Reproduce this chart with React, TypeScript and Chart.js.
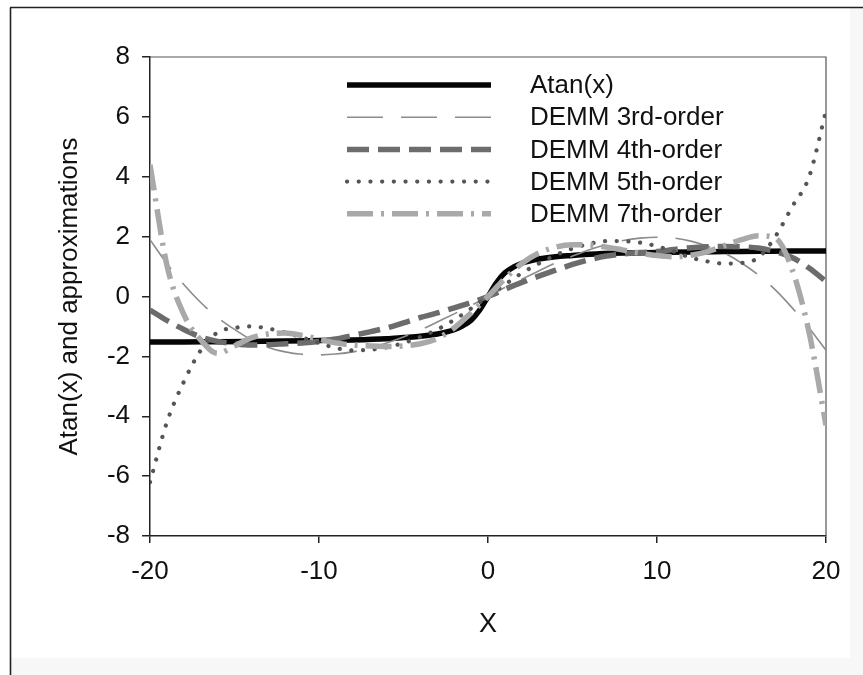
import React, { useEffect, useRef } from 'react';
import { Chart, registerables } from 'chart.js';

Chart.register(...registerables);

// ---------- data ----------
const X_GRID = [-20, -19, -18, -17, -16, -15, -14, -13, -12, -11, -10, -9, -8, -7, -6, -5, -4, -3, -2, -1, 0,
  1, 2, 3, 4, 5, 6, 7, 8, 9, 10, 11, 12, 13, 14, 15, 16, 17, 18, 19, 20];

const ATAN_X = [-20, -18, -16, -14, -12, -10, -8, -6, -5, -4, -3, -2.5, -2, -1.5, -1, -0.5, 0,
  0.5, 1, 1.5, 2, 2.5, 3, 4, 5, 6, 8, 10, 12, 14, 16, 18, 20];
const ATAN_Y = [-1.52, -1.52, -1.51, -1.50, -1.49, -1.47, -1.45, -1.41, -1.37, -1.33, -1.25, -1.19, -1.11, -0.98, -0.79, -0.46, 0,
  0.46, 0.79, 0.98, 1.11, 1.19, 1.25, 1.33, 1.37, 1.41, 1.45, 1.47, 1.49, 1.50, 1.51, 1.52, 1.52];

const DEMM3 = [1.9, 1.1, 0.4, -0.2, -0.7, -1.1, -1.45, -1.7, -1.85, -1.93, -1.95, -1.92, -1.85, -1.72, -1.55, -1.35, -1.12, -0.85, -0.58, -0.3, 0,
  0.3, 0.58, 0.85, 1.12, 1.35, 1.56, 1.74, 1.87, 1.95, 1.98, 1.95, 1.85, 1.68, 1.45, 1.12, 0.72, 0.22, -0.38, -1.05, -1.8];

const DEMM4 = [-0.45, -0.8, -1.1, -1.35, -1.5, -1.58, -1.62, -1.61, -1.58, -1.55, -1.5, -1.42, -1.3, -1.18, -1.05, -0.88, -0.7, -0.55, -0.38, -0.2, 0,
  0.24, 0.47, 0.68, 0.88, 1.07, 1.23, 1.35, 1.42, 1.47, 1.5, 1.57, 1.63, 1.66, 1.67, 1.66, 1.62, 1.5, 1.3, 0.95, 0.5];

const DEMM5 = [-6.2, -4.2, -2.85, -1.8, -1.2, -1.05, -1.0, -1.07, -1.2, -1.37, -1.55, -1.72, -1.8, -1.78, -1.7, -1.55, -1.35, -1.1, -0.78, -0.4, 0,
  0.4, 0.78, 1.1, 1.38, 1.6, 1.76, 1.85, 1.85, 1.8, 1.68, 1.5, 1.3, 1.17, 1.1, 1.12, 1.3, 2.0, 3.0, 4.0, 6.2];

const DEMM7 = [4.4, 1.05, -0.6, -1.45, -1.9, -1.65, -1.38, -1.25, -1.22, -1.3, -1.42, -1.55, -1.62, -1.65, -1.67, -1.65, -1.58, -1.4, -1.05, -0.55, 0,
  0.6, 1.1, 1.45, 1.65, 1.73, 1.72, 1.65, 1.55, 1.45, 1.37, 1.33, 1.38, 1.5, 1.7, 1.9, 2.03, 1.95, 0.9, -1.2, -4.3];

const SERIES_LABELS = ['Atan(x)', 'DEMM 3rd-order', 'DEMM 4th-order', 'DEMM 5th-order', 'DEMM 7th-order'];
const X_TICKS = [-20, -10, 0, 10, 20];
const Y_TICKS = [-8, -6, -4, -2, 0, 2, 4, 6, 8];
const X_TITLE = 'X';
const Y_TITLE = 'Atan(x) and approximations';

const FONT = "'Liberation Sans', Arial, Helvetica, sans-serif";
const TEXT = '#111111';

const pts = (xs: number[], ys: number[]) => xs.map((x, i) => ({ x, y: ys[i] }));

const pagePlugin = {
  id: 'pageDecor',
  beforeDraw(chart: any) {
    const { ctx, width, height } = chart;
    ctx.save();
    ctx.fillStyle = '#ffffff';
    ctx.fillRect(0, 0, width, height);
    ctx.fillStyle = '#f7f7f7';
    ctx.fillRect(850, 8, width - 850, height - 8);
    ctx.fillRect(11, 658, width - 11, height - 658);
    ctx.strokeStyle = '#222';
    ctx.lineWidth = 1.6;
    ctx.beginPath();
    ctx.moveTo(10, 7.5);
    ctx.lineTo(width, 7.5);
    ctx.moveTo(10.5, 7.5);
    ctx.lineTo(10.5, height);
    ctx.stroke();
    ctx.restore();
  },
  beforeDatasetsDraw(chart: any) {
    const { ctx, chartArea } = chart;
    ctx.save();
    ctx.strokeStyle = '#555';
    ctx.lineWidth = 1.2;
    ctx.beginPath();
    ctx.moveTo(chartArea.left, chartArea.top);
    ctx.lineTo(chartArea.right, chartArea.top);
    ctx.lineTo(chartArea.right, chartArea.bottom);
    ctx.stroke();
    ctx.restore();
  },
  afterDraw(chart: any) {
    const { ctx } = chart;
    const x0 = 347;
    const x1 = 491;
    const tx = 530;
    const y0 = 85;
    const dy = 32.2;
    ctx.save();
    chart.data.datasets.forEach((ds: any, i: number) => {
      const y = y0 + i * dy;
      ctx.save();
      ctx.strokeStyle = ds.borderColor;
      ctx.lineWidth = ds.borderWidth;
      ctx.lineCap = ds.borderCapStyle || 'butt';
      ctx.setLineDash(ds.borderDash || []);
      ctx.beginPath();
      ctx.moveTo(x0, y);
      ctx.lineTo(x1, y);
      ctx.stroke();
      ctx.restore();
      ctx.fillStyle = TEXT;
      ctx.font = `26px ${FONT}`;
      ctx.textBaseline = 'middle';
      ctx.textAlign = 'left';
      ctx.fillText(ds.label, tx, y + 1);
    });
    ctx.restore();
  },
};

export default function App() {
  const ref = useRef<HTMLCanvasElement | null>(null);

  useEffect(() => {
    if (!ref.current) return;
    const common = { pointRadius: 0, fill: false, cubicInterpolationMode: 'monotone' as const };
    const chart = new Chart(ref.current, {
      type: 'line',
      data: {
        datasets: [
          { ...common, label: SERIES_LABELS[0], data: pts(ATAN_X, ATAN_Y), borderColor: '#050505', borderWidth: 5.5, borderDash: [], borderCapStyle: 'butt', order: 5 },
          { ...common, label: SERIES_LABELS[1], data: pts(X_GRID, DEMM3), borderColor: '#8c8c8c', borderWidth: 1.6, borderDash: [36, 18], borderCapStyle: 'butt', order: 4 },
          { ...common, label: SERIES_LABELS[2], data: pts(X_GRID, DEMM4), borderColor: '#6c6c6c', borderWidth: 5.5, borderDash: [22, 9], borderCapStyle: 'butt', order: 3 },
          { ...common, label: SERIES_LABELS[3], data: pts(X_GRID, DEMM5), borderColor: '#555555', borderWidth: 4.2, borderDash: [0.1, 11.6], borderCapStyle: 'round', order: 2 },
          { ...common, label: SERIES_LABELS[4], data: pts(X_GRID, DEMM7), borderColor: '#a9a9a9', borderWidth: 5.5, borderDash: [26, 8, 3, 8], borderCapStyle: 'butt', order: 1 },
        ] as any,
      },
      options: {
        responsive: false,
        animation: false,
        layout: { padding: { top: 57, right: 37, left: 0, bottom: 0 } },
        plugins: { legend: { display: false }, tooltip: { enabled: false }, title: { display: false } },
        scales: {
          x: {
            type: 'linear',
            min: -20,
            max: 20,
            afterFit: (s: any) => { s.height = 139; },
            afterBuildTicks: (s: any) => { s.ticks = X_TICKS.map((v) => ({ value: v })); },
            ticks: { callback: (v: any) => String(v), color: TEXT, font: { family: FONT, size: 26 }, padding: 13, maxRotation: 0 },
            grid: { display: true, drawOnChartArea: false, tickLength: 7, color: '#222', lineWidth: 1.5 },
            border: { display: true, color: '#222', width: 1.5 },
            title: { display: true, text: X_TITLE, color: TEXT, font: { family: FONT, size: 27 }, padding: { top: 0, bottom: 34 } },
          },
          y: {
            type: 'linear',
            min: -8,
            max: 8,
            afterFit: (s: any) => { s.width = 150; },
            afterBuildTicks: (s: any) => { s.ticks = Y_TICKS.map((v) => ({ value: v })); },
            ticks: { callback: (v: any) => String(v), color: TEXT, font: { family: FONT, size: 26 }, padding: 12 },
            grid: { display: true, drawOnChartArea: false, tickLength: 8, color: '#222', lineWidth: 1.5 },
            border: { display: true, color: '#222', width: 1.5 },
            title: { display: true, text: Y_TITLE, color: TEXT, font: { family: FONT, size: 26 }, padding: { top: 54, bottom: 0 } },
          },
        },
      },
      plugins: [pagePlugin],
    });
    return () => chart.destroy();
  }, []);

  return (
    <div style={{ position: 'absolute', left: 0, top: 0, width: 863, height: 675 }}>
      <canvas ref={ref} width={863} height={675} style={{ display: 'block', width: 863, height: 675 }} />
    </div>
  );
}
